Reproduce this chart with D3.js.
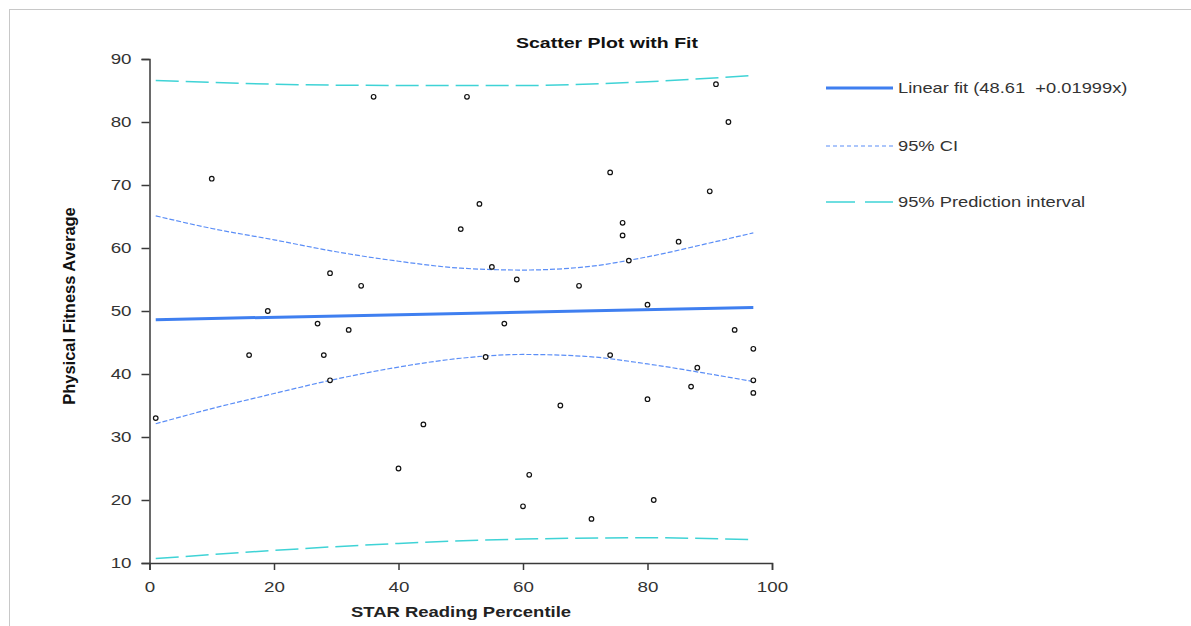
<!DOCTYPE html>
<html>
<head>
<meta charset="utf-8">
<script src="https://cdn.jsdelivr.net/npm/d3@7"></script>
<style>
  body { margin: 0; background: #fff; }
  svg { display: block; }
</style>
</head>
<body>
<svg id="chart"></svg>
<script>
// Chart size
var width = 1191;
var height = 626;

// Scatter points (STAR Reading Percentile, Physical Fitness Average)
var readX = [1, 10, 16, 19, 27, 28, 29, 29, 32, 34, 36, 40, 44, 50, 51, 53, 54, 55, 57, 59, 60, 61, 66, 69, 71, 74, 74, 76, 76, 77, 80, 80, 81, 85, 87, 88, 90, 91, 93, 94, 97, 97, 97];
var fitY  = [33, 71, 43, 50, 48, 43, 56, 39, 47, 54, 84, 25, 32, 63, 84, 67, 42.7, 57, 48, 55, 19, 24, 35, 54, 17, 72, 43, 64, 62, 58, 51, 36, 20, 61, 38, 41, 69, 86, 80, 47, 44, 39, 37];

// Linear fit ends
var lineX = [1, 97];
var lineY = [48.63, 50.55];

// 95% CI
var ciX     = [1, 10, 20, 30, 40, 50, 60, 70, 80, 90, 97];
var ciUpper = [65.1, 63.1, 61.3, 59.4, 57.9, 56.8, 56.5, 57.0, 58.6, 60.8, 62.4];
var ciLower = [32.1, 34.5, 36.9, 39.2, 41.1, 42.5, 43.1, 42.8, 41.6, 40.0, 38.8];

// 95% prediction interval
var piX     = [1, 20, 40, 60, 80, 97];
var piUpper = [86.6, 86.0, 85.8, 85.8, 86.4, 87.4];
var piLower = [10.7, 12.0, 13.1, 13.8, 14.0, 13.7];

// Axis ticks
var xTicks = [0, 20, 40, 60, 80, 100];
var yTicks = [10, 20, 30, 40, 50, 60, 70, 80, 90];

// Legend entries
var legendLabels = ["Linear fit (48.61  +0.01999x)", "95% CI", "95% Prediction interval"];

var fitColor = "#3f7ff0";
var ciColor = "#5b8ef7";
var piColor = "#3fd3d6";
var textColor = "#333";

// the original picture is a bit wider than normal, so text gets stretched sideways
function stretch(sel, factor) {
    sel.each(function () {
        var w = this.getComputedTextLength();
        d3.select(this)
            .attr("textLength", w * factor)
            .attr("lengthAdjust", "spacingAndGlyphs");
    });
}

var svg = d3.select("#chart")
    .attr("width", width)
    .attr("height", height);

// outer frame (top and left edges)
svg.append("line").attr("x1", 9).attr("y1", 9.5).attr("x2", width).attr("y2", 9.5)
    .style("stroke", "#c8c8c8");
svg.append("line").attr("x1", 9.5).attr("y1", 9).attr("x2", 9.5).attr("y2", height)
    .style("stroke", "#c8c8c8");

var x = d3.scaleLinear().domain([0, 100]).range([149.5, 772]);
var y = d3.scaleLinear().domain([10, 90]).range([563, 59]);

// Axes
var xAxis = d3.axisBottom(x).tickValues(xTicks).tickSize(7).tickPadding(11);
var yAxis = d3.axisLeft(y).tickValues(yTicks).tickSize(8).tickPadding(10);

var gx = svg.append("g").attr("transform", "translate(0,563)").call(xAxis);
var gy = svg.append("g").attr("transform", "translate(149.5,0)").call(yAxis);

[gx, gy].forEach(function (g) {
    g.selectAll("path, line").style("stroke", "#3a3a3a").style("stroke-width", 1.5);
    g.selectAll("text")
        .style("font-family", "'Liberation Sans', Arial, sans-serif")
        .style("font-size", "15px")
        .style("fill", textColor)
        .call(stretch, 1.25);
});

// Lines
function pairLine(xs, ys) {
    return xs.map(function (d, i) { return [d, ys[i]]; });
}
var line = d3.line()
    .x(function (d) { return x(d[0]); })
    .y(function (d) { return y(d[1]); })
    .curve(d3.curveMonotoneX);

svg.append("path").datum(pairLine(piX, piUpper)).attr("d", line)
    .style("fill", "none").style("stroke", piColor).style("stroke-width", 1.5)
    .style("stroke-dasharray", "23,7");
svg.append("path").datum(pairLine(piX, piLower)).attr("d", line)
    .style("fill", "none").style("stroke", piColor).style("stroke-width", 1.5)
    .style("stroke-dasharray", "23,7");

svg.append("path").datum(pairLine(ciX, ciUpper)).attr("d", line)
    .style("fill", "none").style("stroke", ciColor).style("stroke-width", 1.2)
    .style("stroke-dasharray", "5,2");
svg.append("path").datum(pairLine(ciX, ciLower)).attr("d", line)
    .style("fill", "none").style("stroke", ciColor).style("stroke-width", 1.2)
    .style("stroke-dasharray", "5,2");

svg.append("path").datum(pairLine(lineX, lineY)).attr("d", line)
    .style("fill", "none").style("stroke", fitColor).style("stroke-width", 3);

// Points
svg.selectAll("circle.pt")
    .data(readX)
    .enter().append("circle")
    .attr("class", "pt")
    .attr("r", 2.3)
    .attr("cx", function (d) { return x(d); })
    .attr("cy", function (d, i) { return y(fitY[i]); })
    .style("fill", "#fff")
    .style("stroke", "#111")
    .style("stroke-width", 1.2);

// Title and axis labels
svg.append("text")
    .attr("x", 607).attr("y", 48)
    .attr("text-anchor", "middle")
    .style("font-family", "'Liberation Sans', Arial, sans-serif")
    .style("font-weight", "bold")
    .style("font-size", "15px")
    .style("fill", "#111")
    .text("Scatter Plot with Fit")
    .call(stretch, 1.3);

svg.append("text")
    .attr("transform", "translate(75,306) rotate(-90)")
    .attr("text-anchor", "middle")
    .style("font-family", "'Liberation Sans', Arial, sans-serif")
    .style("font-weight", "bold")
    .style("font-size", "16px")
    .style("fill", "#111")
    .text("Physical Fitness Average")
    .call(stretch, 1.03);

svg.append("text")
    .attr("x", 461).attr("y", 617)
    .attr("text-anchor", "middle")
    .style("font-family", "'Liberation Sans', Arial, sans-serif")
    .style("font-weight", "bold")
    .style("font-size", "15px")
    .style("fill", "#222")
    .text("STAR Reading Percentile")
    .call(stretch, 1.23);

// Legend
var legendY = [88, 146, 202];
var legendStyles = [
    { color: fitColor, width: 3, dash: null },
    { color: ciColor, width: 1.2, dash: "4,3" },
    { color: piColor, width: 1.5, dash: "29,10" }
];

var legend = svg.selectAll("g.legend")
    .data(legendLabels)
    .enter().append("g")
    .attr("class", "legend")
    .attr("transform", function (d, i) { return "translate(0," + legendY[i] + ")"; });

legend.append("line")
    .attr("x1", 826).attr("x2", 893).attr("y1", 0).attr("y2", 0)
    .style("stroke", function (d, i) { return legendStyles[i].color; })
    .style("stroke-width", function (d, i) { return legendStyles[i].width; })
    .style("stroke-dasharray", function (d, i) { return legendStyles[i].dash; });

legend.append("text")
    .attr("x", 898).attr("y", 5)
    .attr("xml:space", "preserve")
    .style("white-space", "pre")
    .style("font-family", "'Liberation Sans', Arial, sans-serif")
    .style("font-size", "15px")
    .style("fill", textColor)
    .text(function (d) { return d; })
    .call(stretch, 1.22);
</script>
</body>
</html>
